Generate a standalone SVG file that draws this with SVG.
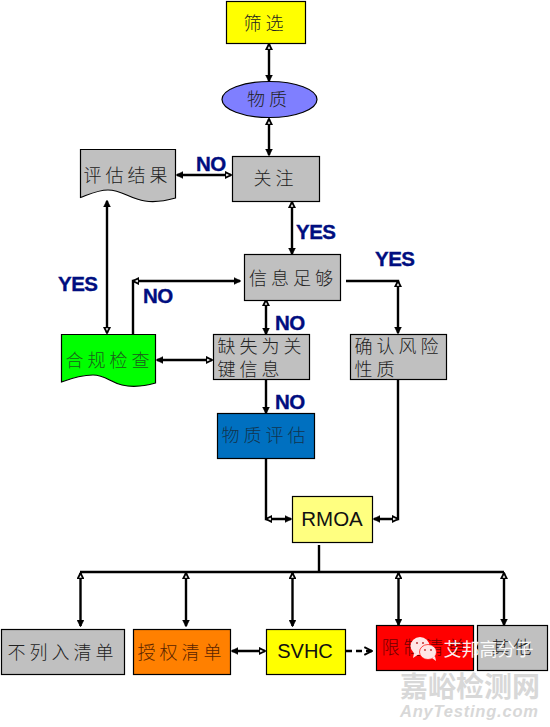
<svg xmlns="http://www.w3.org/2000/svg" width="550" height="727" viewBox="0 0 550 727">
<defs>
<marker id="s" viewBox="0 0 10 10" refX="9" refY="5" markerWidth="3" markerHeight="3" orient="auto-start-reverse" markerUnits="strokeWidth"><path d="M0 0 L10 5 L0 10 Z" fill="#000" stroke="#000"/></marker>
<marker id="o" viewBox="0 0 10 10" refX="9" refY="5" markerWidth="3" markerHeight="3" orient="auto-start-reverse" markerUnits="strokeWidth"><path d="M1 1 L9 5 L1 9 Z" fill="#fff" stroke="#000" stroke-width="2.5"/></marker>
<marker id="v" viewBox="0 0 10 10" refX="9" refY="5" markerWidth="4" markerHeight="4" orient="auto" markerUnits="strokeWidth"><path d="M1 1 L9 5 L1 9" fill="none" stroke="#000" stroke-width="2"/></marker>
</defs>
<style>
.b{stroke:#000;stroke-width:1.2}
.t{font-family:"Noto Sans CJK SC","Liberation Sans",sans-serif;font-size:18px;font-weight:300;fill:#222;letter-spacing:4px}
.l{font-family:"Liberation Sans",Arial,sans-serif;font-size:20.500px;font-weight:700;fill:#000e80;stroke:#000e80;stroke-width:.35;letter-spacing:-.5px}
.e{font-family:"Liberation Sans",Arial,sans-serif;fill:#111}
.c{fill:none;stroke:#000;stroke-width:2.400}
.m{text-anchor:middle}
</style>
<rect width="550" height="727" fill="#fff"/>
<g id="connectors">
<path class="c" d="M269 44V81" marker-start="url(#o)" marker-end="url(#s)"/>
<path class="c" d="M269 119V155" marker-start="url(#o)" marker-end="url(#s)"/>
<path class="c" d="M177 175H231" marker-start="url(#s)" marker-end="url(#o)"/>
<path class="c" d="M292 202V254" marker-start="url(#o)" marker-end="url(#s)"/>
<path class="c" d="M107 201V333" marker-start="url(#s)" marker-end="url(#o)"/>
<path class="c" d="M133 334V281H240" marker-end="url(#s)"/>
<path class="c" d="M133 281H137" marker-start="url(#o)"/>
<path class="c" d="M266 300V334" marker-start="url(#o)" marker-end="url(#s)"/>
<path class="c" d="M346 281H398V333" marker-end="url(#s)"/>
<path class="c" d="M398 285V281" marker-end="url(#o)"/>
<path class="c" d="M157 360H212" marker-start="url(#s)" marker-end="url(#o)"/>
<path class="c" d="M266 380V413" marker-end="url(#s)"/>
<path class="c" d="M266 459V519H291" marker-end="url(#s)"/>
<path class="c" d="M266 519H272" marker-start="url(#o)"/>
<path class="c" d="M398 380V519H374" marker-end="url(#s)"/>
<path class="c" d="M398 519H392" marker-start="url(#o)"/>
<path class="c" d="M319 545V572"/>
<path class="c" d="M80 572H504"/>
<path class="c" d="M80.500 573V626" marker-start="url(#o)" marker-end="url(#s)"/>
<path class="c" d="M186 573V626" marker-start="url(#o)" marker-end="url(#s)"/>
<path class="c" d="M292.500 573V626" marker-start="url(#o)" marker-end="url(#s)"/>
<path class="c" d="M398.500 573V625" marker-start="url(#o)" marker-end="url(#s)"/>
<path class="c" d="M504 573V625" marker-start="url(#o)" marker-end="url(#s)"/>
<path class="c" d="M232 651H265" marker-start="url(#s)" marker-end="url(#o)"/>
<path class="c" d="M346 651H372" stroke-dasharray="6 4" marker-end="url(#v)"/>
</g>
<g id="n-screen"><rect class="b" x="226.500" y="1.500" width="79" height="42" fill="#ffff00"/><text class="t m" x="265.500" y="29.500">筛选</text></g>
<g id="n-substance"><ellipse class="b" cx="269.500" cy="99.500" rx="47.500" ry="18" fill="#7f7fff"/><text class="t m" x="269" y="106">物质</text></g>
<g id="n-concern"><rect class="b" x="232.500" y="156.500" width="87" height="45" fill="#c0c0c0"/><text class="t m" x="275.500" y="185">关注</text></g>
<g id="n-result"><path class="b" d="M80.500 149.500H175.500V198C165 201 155 202.500 145 201C130 199 122 190 108 190C98 190 90 194 80.500 197.500Z" fill="#c0c0c0"/><text class="t" x="83.500" y="182">评估结果</text></g>
<g id="n-enough"><rect class="b" x="244.500" y="254.500" width="96" height="46" fill="#c0c0c0"/><text class="t" x="249" y="285">信息足够</text></g>
<g id="n-compliance"><path class="b" d="M61.500 334.500H155.500V383C145 386 135 388 122 385C110 382 105 375 93 375C82 375 72 378 61.500 382Z" fill="#00ff00"/><text class="t" x="65.500" y="367" style="fill:#1c5c1c">合规检查</text></g>
<g id="n-missing"><rect class="b" x="213.500" y="334.500" width="96" height="45" fill="#c0c0c0"/><text class="t" x="217.500" y="353">缺失为关</text><text class="t" x="217.500" y="376">键信息</text></g>
<g id="n-risk"><rect class="b" x="350.500" y="334.500" width="96" height="45" fill="#c0c0c0"/><text class="t" x="354.500" y="353">确认风险</text><text class="t" x="354.500" y="376">性质</text></g>
<g id="n-evaluation"><rect class="b" x="217.500" y="413.500" width="97" height="45" fill="#0070c0"/><text class="t" x="221.500" y="442" style="fill:#12344e">物质评估</text></g>
<g id="n-rmoa"><rect class="b" x="292.500" y="496.500" width="80" height="46" fill="#ffff80"/><text class="e m" x="332" y="526" font-size="20.500">RMOA</text></g>
<g id="n-notlisted"><rect class="b" x="1.500" y="629.500" width="123" height="45" fill="#c0c0c0"/><text class="t" x="7.500" y="659">不列入清单</text></g>
<g id="n-auth"><rect class="b" x="133.500" y="629.500" width="97" height="45" fill="#ff8000"/><text class="t" x="137.500" y="659" style="fill:#5a2400">授权清单</text></g>
<g id="n-svhc"><rect class="b" x="266.500" y="629.500" width="79" height="45" fill="#ffff00"/><text class="e m" x="305" y="658" font-size="20">SVHC</text></g>
<g id="n-restrict"><rect class="b" x="376.500" y="625.500" width="97" height="45" fill="#ff0000"/><text class="t" x="381.500" y="654" style="fill:#700000">限制清单</text></g>
<g id="n-other"><rect class="b" x="477.500" y="625.500" width="70" height="45" fill="#c0c0c0"/><text class="t" x="491.500" y="654">其他</text></g>
<g id="labels">
<text class="l" x="196" y="171">NO</text>
<text class="l" x="296" y="239">YES</text>
<text class="l" x="375" y="266">YES</text>
<text class="l" x="58" y="291">YES</text>
<text class="l" x="143" y="303">NO</text>
<text class="l" x="275" y="330">NO</text>
<text class="l" x="275" y="409">NO</text>
</g>
<g id="watermark">
<ellipse cx="420" cy="646" rx="9.500" ry="9" fill="#ffe6e6"/>
<path d="M414 653L413 658L419 654Z" fill="#ffe6e6"/>
<ellipse cx="428" cy="652" rx="8.500" ry="7.500" fill="#ffe6e6" stroke="#ff0000" stroke-width=".7"/>
<path d="M432 658L436 661L435 656Z" fill="#ffe6e6"/>
<g fill="#c03030"><circle cx="417" cy="643" r="1"/><circle cx="423" cy="643" r="1"/><circle cx="425" cy="650" r=".9"/><circle cx="431" cy="650" r=".9"/></g>
<text x="443.500" y="656" font-family="'Noto Sans CJK SC',sans-serif" font-size="18" fill="#fff" opacity=".92">艾邦高分子</text>
<text x="400" y="697" font-family="'Noto Sans CJK SC',sans-serif" font-size="28" font-weight="700" fill="#d8d8d8">嘉峪检测网</text>
<text x="400" y="717" font-family="'Liberation Sans',sans-serif" font-size="16.500" font-weight="700" font-style="italic" fill="#d8d8d8" textLength="138">AnyTesting.com</text>
</g>
</svg>
